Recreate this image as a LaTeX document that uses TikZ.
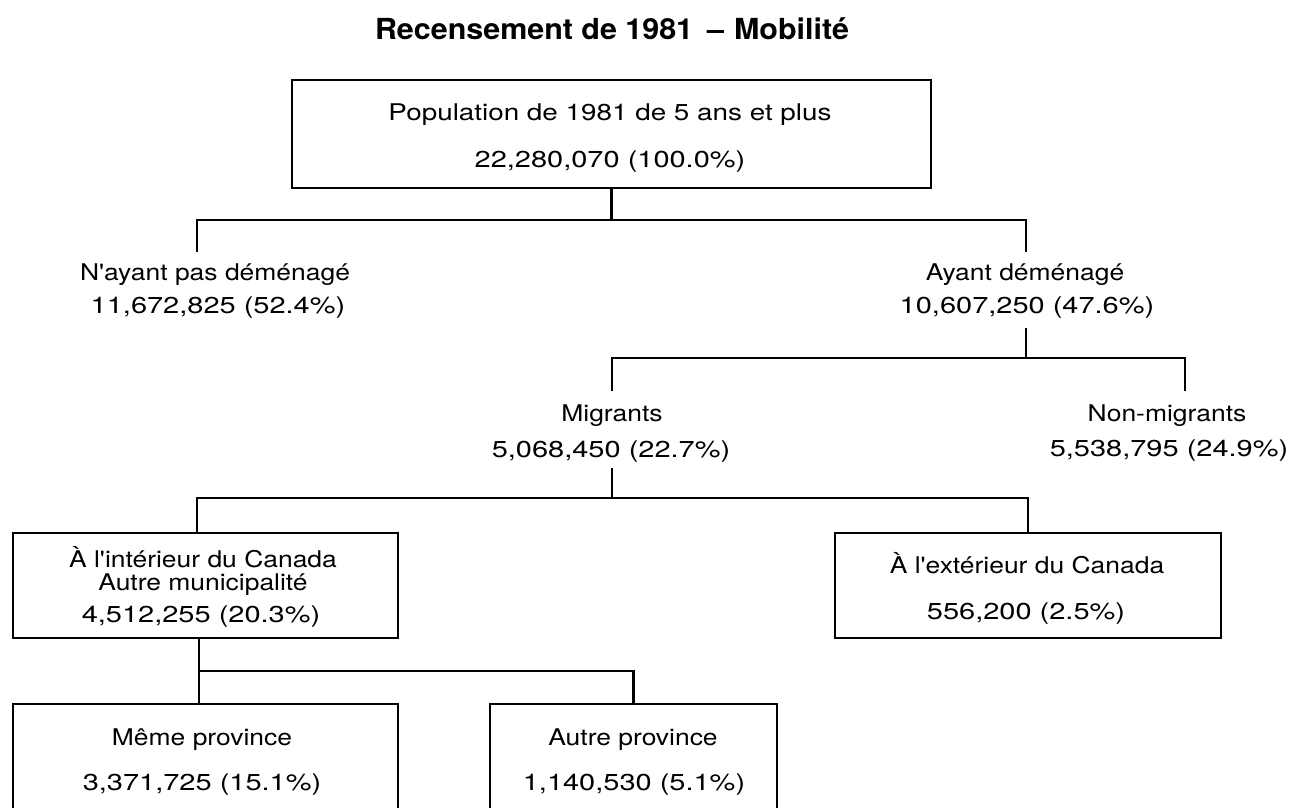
\documentclass[tikz,border=0pt]{standalone}
\usepackage{fontspec}
\setmainfont{TeX Gyre Heros}
\newfontfamily\wf[FakeStretch=1.15]{TeX Gyre Heros}
\newfontfamily\nf[FakeStretch=1.26]{TeX Gyre Heros}
\newfontfamily\pf[FakeStretch=1.21]{TeX Gyre Heros}
\newfontfamily\titf[FakeStretch=1.05]{TeX Gyre Heros}
\begin{document}
\begin{tikzpicture}[x=1pt,y=-1pt,
  conn/.style={line width=2.2pt},
  box/.style={draw,line width=2.2pt,inner sep=0pt},
  wtxt/.style={anchor=base,inner sep=0pt,font=\fontsize{23}{27}\wf\selectfont},
  ntxt/.style={anchor=base,inner sep=0pt,font=\fontsize{23}{27}\nf\selectfont},
  ptxt/.style={anchor=base,inner sep=0pt,font=\fontsize{23}{27}\pf\selectfont}]
\useasboundingbox (0,0) rectangle (1298,808);
\clip (0,0) rectangle (1298,808);
\fill[white] (0,0) rectangle (1298,808);

% title
\node[anchor=base,inner sep=0pt,font=\fontsize{29}{34}\titf\bfseries] (title) at (612,40)
  {Recensement de 1981\hspace{14pt}–\hspace{10pt}Mobilité};

% boxes
\node[box,minimum width=639pt,minimum height=108pt] (top) at (611.5,134) {};
\node[box,minimum width=385pt,minimum height=105pt] (lb) at (205.5,585.5) {};
\node[box,minimum width=386pt,minimum height=105pt] (rb) at (1028,585.5) {};
\node[box,minimum width=385pt,minimum height=140pt,anchor=north] (bl) at (205.5,703) {};
\node[box,minimum width=287pt,minimum height=140pt,anchor=north] (br) at (633.5,703) {};

% texts
\node[ptxt] (top1) at (610,120) {Population de 1981 de 5 ans et plus};
\node[ntxt] (top2) at (610,167) {22,280,070 (100.0\%)};
\node[wtxt] (nay1) at (215,280) {N'ayant pas déménagé};
\node[ntxt] (nay2) at (218,313) {11,672,825 (52.4\%)};
\node[wtxt] (ay1) at (1025,280) {Ayant déménagé};
\node[ntxt] (ay2) at (1027,313) {10,607,250 (47.6\%)};
\node[wtxt] (mig1) at (612,421) {Migrants};
\node[ntxt] (mig2) at (611,457) {5,068,450 (22.7\%)};
\node[wtxt] (non1) at (1167,421) {Non-migrants};
\node[ntxt] (non2) at (1169,456) {5,538,795 (24.9\%)};
\node[wtxt] (lb1) at (203,567) {À l'intérieur du Canada};
\node[wtxt] (lb2) at (203,590) {Autre municipalité};
\node[ntxt] (lb3) at (201,622) {4,512,255 (20.3\%)};
\node[wtxt] (rb1) at (1027,573) {À l'extérieur du Canada};
\node[ntxt] (rb2) at (1026,619) {556,200 (2.5\%)};
\node[wtxt] (bl1) at (202,745) {Même province};
\node[ntxt] (bl2) at (202,790) {3,371,725 (15.1\%)};
\node[wtxt] (br1) at (633,745) {Autre province};
\node[ntxt] (br2) at (634,790) {1,140,530 (5.1\%)};

% junction and end coordinates
\coordinate (j1) at (611.5,220);
\coordinate (enay) at (197,252);
\coordinate (eay) at (1026,252);
\coordinate (say) at (1026,328);
\coordinate (j2) at (1026,358);
\coordinate (emig) at (612,391);
\coordinate (enon) at (1185,391);
\coordinate (smig) at (612,468);
\coordinate (j3) at (612,498);
\coordinate (elb) at (197,533);
\coordinate (slb) at (199,638);
\coordinate (j4) at (199,671);
\coordinate (ebl) at (199,703);

% connectors
\draw[conn] (top.south) -- (j1);
\draw[conn] (enay) |- (j1) -| (eay);
\draw[conn] (say) -- (j2);
\draw[conn] (emig) |- (j2) -| (enon);
\draw[conn] (smig) -- (j3);
\draw[conn] (elb) |- (j3) -| (rb.north);
\draw[conn] (slb) -- (j4);
\draw[conn] (ebl) |- (j4) -| (br.north);
\end{tikzpicture}
\end{document}
